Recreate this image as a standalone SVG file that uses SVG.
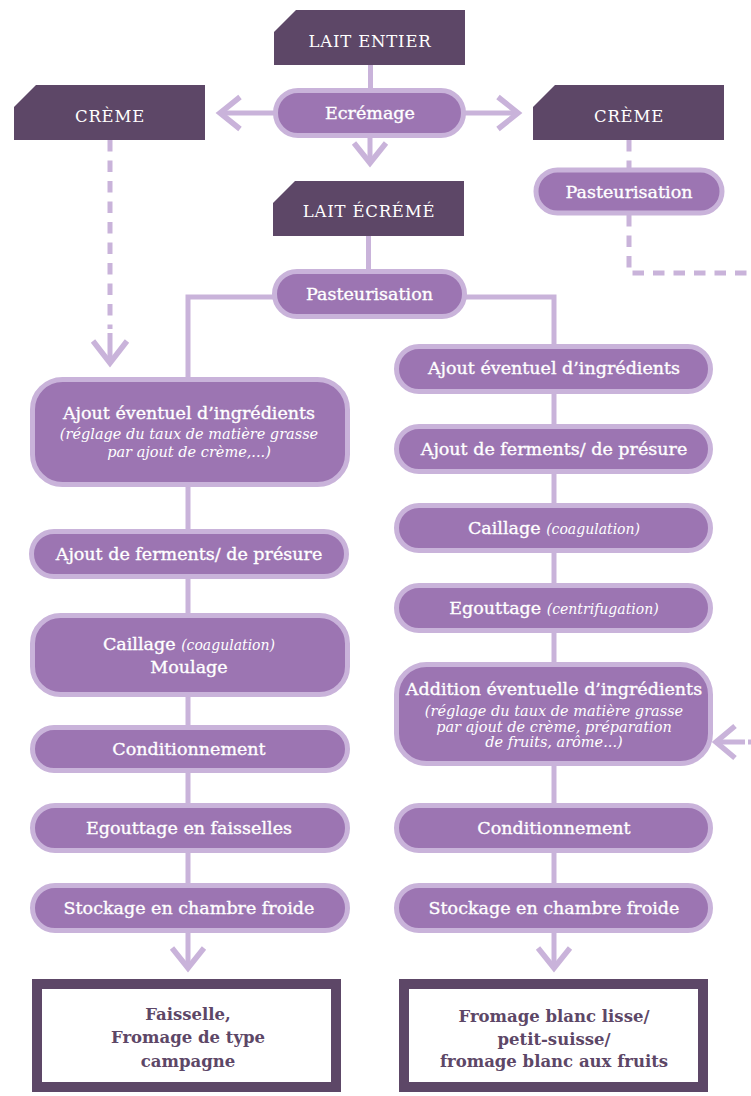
<svg xmlns="http://www.w3.org/2000/svg" width="751" height="1096" viewBox="0 0 751 1096">
<defs>
<style>
.hdr{fill:#5d4767}
.hdrt{fill:#ffffff;font-family:"DejaVu Serif",serif;font-size:16.5px;letter-spacing:0.8px;text-anchor:middle}
.pill{fill:#9c75b2;stroke:#c9b3da;stroke-width:5}
.pt{fill:#ffffff;stroke:#ffffff;stroke-width:0.35px;font-family:"DejaVu Serif",serif;font-size:17.5px;text-anchor:middle}
.it{fill:#ffffff;font-family:"DejaVu Serif",serif;font-size:14.5px;font-style:italic;text-anchor:middle}
.itin{font-family:"DejaVu Serif",serif;font-size:14px;font-style:italic;stroke-width:0}
.ln{fill:none;stroke:#c9b3da;stroke-width:5}
.dash{fill:none;stroke:#c9b3da;stroke-width:5;stroke-dasharray:11.5 9}
.ah{fill:none;stroke:#c9b3da;stroke-width:5.5;stroke-linecap:butt;stroke-linejoin:miter}
.fin{fill:#ffffff;stroke:#5d4767;stroke-width:10}
.ft{fill:#5d4767;font-family:"DejaVu Serif",serif;font-size:16.5px;font-weight:bold;text-anchor:middle}
</style>
</defs>
<rect width="751" height="1096" fill="#ffffff"/>
<g id="connectors">
<line class="ln" x1="370.5" y1="65" x2="370.5" y2="90"/>
<line class="ln" x1="275" y1="113" x2="222" y2="113"/>
<polyline class="ah" points="240,97 220,113 240,129"/>
<line class="ln" x1="464" y1="113" x2="516" y2="113"/>
<polyline class="ah" points="498,97 518,113 498,129"/>
<line class="ln" x1="370" y1="136" x2="370" y2="162"/>
<polyline class="ah" points="354,143 370,163 386,143"/>
<line class="ln" x1="368.5" y1="236" x2="368.5" y2="271"/>
<polyline class="ln" points="188,377 188,297 554,297 554,344"/>
<line class="dash" x1="110" y1="140" x2="110" y2="329"/>
<line class="ln" x1="110" y1="333" x2="110" y2="362"/>
<polyline class="ah" points="93,341 110,363 127,341"/>
<line class="dash" x1="629" y1="140" x2="629" y2="170"/>
<polyline class="dash" points="629,215 629,273 751,273"/>
<line class="ln" x1="716" y1="742" x2="745" y2="742"/>
<line class="ln" x1="748" y1="742" x2="751" y2="742"/>
<polyline class="ah" points="735,726 716,742 735,758"/>
<line class="ln" x1="188" y1="487" x2="188" y2="529"/>
<line class="ln" x1="188" y1="579" x2="188" y2="613"/>
<line class="ln" x1="188" y1="697" x2="188" y2="725"/>
<line class="ln" x1="188" y1="773" x2="188" y2="803"/>
<line class="ln" x1="188" y1="853" x2="188" y2="883"/>
<line class="ln" x1="188" y1="933" x2="188" y2="966"/>
<polyline class="ah" points="172,948 188,968 204,948"/>
<line class="ln" x1="554" y1="393" x2="554" y2="424"/>
<line class="ln" x1="554" y1="473" x2="554" y2="503"/>
<line class="ln" x1="554" y1="553" x2="554" y2="583"/>
<line class="ln" x1="554" y1="633" x2="554" y2="662"/>
<line class="ln" x1="554" y1="766" x2="554" y2="803"/>
<line class="ln" x1="554" y1="853" x2="554" y2="883"/>
<line class="ln" x1="554" y1="933" x2="554" y2="966"/>
<polyline class="ah" points="538,948 554,968 570,948"/>
</g>
<g id="lait-entier">
<path class="hdr" d="M296,10 H465 V65 H274 V32 Z"/>
<text class="hdrt" x="370" y="47">LAIT ENTIER</text>
</g>
<g id="creme-left">
<path class="hdr" d="M36,85 H205 V140 H14 V107 Z"/>
<text class="hdrt" x="110" y="122">CRÈME</text>
</g>
<g id="creme-right">
<path class="hdr" d="M555,85 H724 V140 H533 V107 Z"/>
<text class="hdrt" x="629" y="122">CRÈME</text>
</g>
<g id="ecremage">
<rect class="pill" x="275.5" y="90.5" width="188" height="45" rx="22.5"/>
<text class="pt" x="370" y="119">Ecrémage</text>
</g>
<g id="pasteurisation-creme">
<rect class="pill" x="536" y="170" width="186" height="43" rx="21.5"/>
<text class="pt" x="629" y="198">Pasteurisation</text>
</g>
<g id="lait-ecreme">
<path class="hdr" d="M295,181 H464 V236 H273 V203 Z"/>
<text class="hdrt" x="369" y="217">LAIT ÉCRÉMÉ</text>
</g>
<g id="pasteurisation">
<rect class="pill" x="274.5" y="271.5" width="190" height="45" rx="22.5"/>
<text class="pt" x="369.5" y="300">Pasteurisation</text>
</g>
<g id="l-ajout">
<rect class="pill" x="32.5" y="379.5" width="315" height="105" rx="30"/>
<text class="pt" x="189" y="419">Ajout éventuel  d’ingrédients</text>
<text class="it" x="189" y="439">(réglage du taux de matière grasse</text>
<text class="it" x="189" y="457">par ajout de crème,...)</text>
</g>
<g id="l-ferments">
<rect class="pill" x="31.5" y="531.5" width="315" height="45" rx="22.5"/>
<text class="pt" x="189" y="560">Ajout de ferments/ de présure</text>
</g>
<g id="l-caillage">
<rect class="pill" x="32.5" y="615.5" width="315" height="79" rx="28"/>
<text class="pt" x="189" y="650">Caillage <tspan class="itin">(coagulation)</tspan></text>
<text class="pt" x="189" y="673">Moulage</text>
</g>
<g id="l-conditionnement">
<rect class="pill" x="32.5" y="727.5" width="315" height="43" rx="21.5"/>
<text class="pt" x="189" y="755">Conditionnement</text>
</g>
<g id="l-egouttage">
<rect class="pill" x="32.5" y="805.5" width="315" height="45" rx="22.5"/>
<text class="pt" x="189" y="834">Egouttage en faisselles</text>
</g>
<g id="l-stockage">
<rect class="pill" x="32.5" y="885.5" width="315" height="45" rx="22.5"/>
<text class="pt" x="189" y="914">Stockage en chambre froide</text>
</g>
<g id="l-final">
<rect class="fin" x="37" y="984" width="299" height="103"/>
<text class="ft" x="188" y="1020">Faisselle,</text>
<text class="ft" x="188" y="1043">Fromage de type</text>
<text class="ft" x="188" y="1067">campagne</text>
</g>
<g id="r-ajout">
<rect class="pill" x="396.5" y="346.5" width="314" height="45" rx="22.5"/>
<text class="pt" x="554" y="374">Ajout éventuel d’ingrédients</text>
</g>
<g id="r-ferments">
<rect class="pill" x="396.5" y="426.5" width="314" height="45" rx="22.5"/>
<text class="pt" x="554" y="455">Ajout de ferments/ de présure</text>
</g>
<g id="r-caillage">
<rect class="pill" x="396.5" y="505.5" width="314" height="45" rx="22.5"/>
<text class="pt" x="554" y="534">Caillage <tspan class="itin">(coagulation)</tspan></text>
</g>
<g id="r-egouttage">
<rect class="pill" x="396.5" y="585.5" width="314" height="45" rx="22.5"/>
<text class="pt" x="554" y="614">Egouttage <tspan class="itin">(centrifugation)</tspan></text>
</g>
<g id="r-addition">
<rect class="pill" x="396.5" y="664.5" width="314" height="99" rx="30"/>
<text class="pt" x="554" y="695">Addition éventuelle d’ingrédients</text>
<text class="it" x="554" y="716">(réglage du taux de matière grasse</text>
<text class="it" x="554" y="732">par ajout de crème, préparation</text>
<text class="it" x="554" y="747">de fruits, arôme...)</text>
</g>
<g id="r-conditionnement">
<rect class="pill" x="396.5" y="805.5" width="314" height="45" rx="22.5"/>
<text class="pt" x="554" y="834">Conditionnement</text>
</g>
<g id="r-stockage">
<rect class="pill" x="396.5" y="885.5" width="314" height="45" rx="22.5"/>
<text class="pt" x="554" y="914">Stockage en chambre froide</text>
</g>
<g id="r-final">
<rect class="fin" x="404" y="984" width="299" height="103"/>
<text class="ft" x="554" y="1022">Fromage blanc lisse/</text>
<text class="ft" x="554" y="1045">petit-suisse/</text>
<text class="ft" x="554" y="1067">fromage blanc aux fruits</text>
</g>
</svg>
